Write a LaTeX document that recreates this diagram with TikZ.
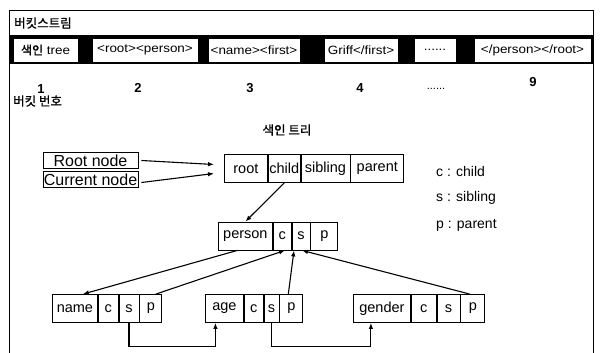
\documentclass[tikz,border=0pt]{standalone}
\usepackage{fontspec}
\setmainfont{Liberation Sans}
\newfontfamily\kr{Noto Sans CJK KR}[FakeBold=1]
\newfontfamily\widesans{Liberation Sans}[FakeStretch=1.12]
\usetikzlibrary{arrows.meta}

\tikzset{
  frame/.style={line width=1pt},
  bucket/.style={draw, fill=white, line width=0.6pt, minimum height=24pt, inner sep=0pt, font=\widesans\fontsize{12}{14}\selectfont},
  label/.style={inner sep=0pt, font=\fontsize{14}{16}\selectfont},
  numlabel/.style={inner sep=0pt, font=\bfseries\fontsize{13}{15}\selectfont},
  krlabel/.style={inner sep=0pt, font=\kr\fontsize{12.5}{14}\selectfont},
  cell/.style={draw, line width=0.8pt, minimum height=28pt, inner sep=0pt, anchor=west, font=\fontsize{14.5}{16}\selectfont},
  pointer/.style={draw, line width=0.8pt, minimum height=16pt, minimum width=95pt, inner sep=0pt, font=\fontsize{16}{17}\selectfont},
  arr/.style={line width=1.1pt, -{Latex[length=6pt,width=4.5pt]}},
}

\begin{document}
\begin{tikzpicture}[x=1pt,y=-1pt]
\useasboundingbox (0,0) rectangle (600,353);

% outer frame
\draw[frame] (9,353) -- (9,11) -- (593,11) -- (593,353);

% bucket stream
\node[krlabel, anchor=west] (bstitle) at (14,23) {버킷스트림};
\fill[black] (10,35) rectangle (593,64);
\node[bucket, minimum width=65pt] (b1) at (45.5,50) {{\kr 색인} tree};
\node[bucket, minimum width=106pt] (b2) at (145,50) {<root><person>};
\node[bucket, minimum width=92pt] (b3) at (254,50) {<name><first>};
\node[bucket, minimum width=74pt] (b4) at (361,50) {Griff</first>};
\node[bucket, minimum width=42pt] (b5) at (435,50) {......};
\node[bucket, minimum width=117pt] (b6) at (532.5,50) {</person></root>};

% bucket numbers
\node[numlabel] (n1) at (41,89) {1};
\node[numlabel] (n2) at (138,88) {2};
\node[numlabel] (n3) at (250,88) {3};
\node[numlabel] (n4) at (360,88) {4};
\node[label, font=\fontsize{11}{13}\selectfont] (n5) at (436,89) {......};
\node[numlabel] (n9) at (533,82) {9};
\node[krlabel, anchor=west] (bnum) at (13,101) {버킷 번호};

% index tree
\node[krlabel] (ttitle) at (287,130) {색인 트리};

\node[pointer] (rootn) at (90.5,160.5) {Root node};
\node[pointer] (curn) at (90.5,179.5) {Current node};

\node[cell, minimum width=43pt] (rt) at (224,168.5) {root};
\node[cell, minimum width=32pt] (ch) at (rt.east) {child};
\node[cell, minimum width=49pt] (sb) at (ch.east) {sibling};
\node[cell, minimum width=53pt] (pa) at (sb.east) {parent};

\node[cell, minimum width=54pt] (pe) at (218,236) {person};
\node[cell, minimum width=18pt] (pc) at (pe.east) {c};
\node[cell, minimum width=18pt] (ps) at (pc.east) {s};
\node[cell, minimum width=27pt] (pp) at (ps.east) {p};

\node[cell, minimum width=45pt] (nm) at (52,308.5) {name};
\node[cell, minimum width=20pt] (nc) at (nm.east) {c};
\node[cell, minimum width=20pt] (ns) at (nc.east) {s};
\node[cell, minimum width=22pt] (np) at (ns.east) {p};

\node[cell, minimum width=38pt] (ag) at (205,308.5) {age};
\node[cell, minimum width=19pt] (ac) at (ag.east) {c};
\node[cell, minimum width=15pt] (as) at (ac.east) {s};
\node[cell, minimum width=23pt] (ap) at (as.east) {p};

\node[cell, minimum width=57pt] (gd) at (353,308.5) {gender};
\node[cell, minimum width=25pt] (gc) at (gd.east) {c};
\node[cell, minimum width=23pt] (gs) at (gc.east) {s};
\node[cell, minimum width=24pt] (gp) at (gs.east) {p};

% legend
\node[label, anchor=west] (lc) at (436,171) {c : child};
\node[label, anchor=west] (ls) at (436,198) {s : sibling};
\node[label, anchor=west] (lp) at (436,225) {p : parent};

% pointers into the tree
\draw[arr] ([xshift=3pt]rootn.east) -- ([xshift=-10pt,yshift=4pt]rt.west);
\draw[arr] ([xshift=3pt,yshift=-3pt]curn.east) -- ([xshift=-10pt,yshift=-5pt]rt.west);

% child links
\draw[arr] (ch.south) -- (pe.north);
\draw[arr] ([xshift=-8pt]pe.south) -- ([xshift=8pt]nm.north);

% parent links
\draw[arr] ([xshift=5pt]np.north) -- ([xshift=-16pt]ps.south);
\draw[arr] ([xshift=-3pt]ap.north) -- ([xshift=-7pt]ps.south);
\draw[arr] ([xshift=-3pt]gp.north) -- ([xshift=1pt]ps.south);

% sibling links
\draw[arr] (ns.south) -- ++(0,24) -| ([xshift=-9pt]ag.south);
\draw[arr] (as.south) -- ++(0,24) -| ([xshift=-11pt]gd.south);
\end{tikzpicture}
\end{document}
